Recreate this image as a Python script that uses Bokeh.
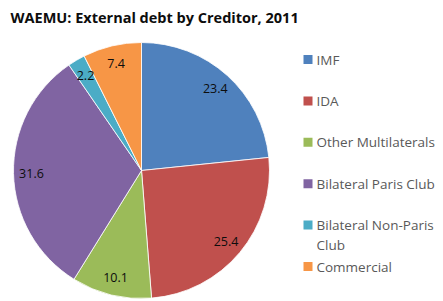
import math
from bokeh.plotting import figure
from bokeh.models import Range1d, ColumnDataSource
from bokeh.core.properties import value
from bokeh.embed import file_html
from bokeh.resources import INLINE

# ---- data ----
title_text = "WAEMU: External debt by Creditor, 2011"
categories = ["IMF", "IDA", "Other Multilaterals", "Bilateral Paris Club",
              "Bilateral Non-Paris Club", "Commercial"]
shares = [23.4, 25.4, 10.1, 31.6, 2.2, 7.4]
legend_lines = [["IMF"], ["IDA"], ["Other Multilaterals"], ["Bilateral Paris Club"],
                ["Bilateral Non-Paris", "Club"], ["Commercial"]]
colors = ["#4F81BD", "#C0504D", "#9BBB59", "#8064A2", "#4BACC6", "#F79646"]

# ---- layout (pixels, reference coords -> data coords) ----
W, H = 443, 301
def X(px):
    return px
def Y(py):
    return H - py

cx, cy, R = X(141), Y(170), 128
label_r = 0.86 * R

p = figure(width=W, height=H, output_backend="svg", toolbar_location=None,
           x_range=Range1d(0, W), y_range=Range1d(0, H),
           x_axis_location=None, y_axis_location=None, min_border=0)
p.grid.visible = False
p.outline_line_color = None
p.background_fill_color = "white"
p.border_fill_color = "white"

total = sum(shares)
starts, ends, lx, ly, txt = [], [], [], [], []
cum = 0.0
for s in shares:
    a0 = math.pi / 2 - 2 * math.pi * cum / total
    cum += s
    a1 = math.pi / 2 - 2 * math.pi * cum / total
    starts.append(a0)
    ends.append(a1)
    mid = (a0 + a1) / 2
    lx.append(cx + label_r * math.cos(mid))
    ly.append(cy + label_r * math.sin(mid))
    txt.append(f"{s:.1f}")

src = ColumnDataSource(dict(start=starts, end=ends, color=colors))
p.wedge(x=cx, y=cy, radius=R, start_angle="start", end_angle="end",
        direction="clock", fill_color="color", line_color="white",
        line_width=0.8, source=src)

p.text(x=lx, y=ly, text=txt, text_align="center", text_baseline="middle",
       text_font=value("Open Sans"), text_font_size="12.5px", text_color="#0d0d0d")

# title
p.text(x=[X(10)], y=[Y(17)], text=[title_text], text_align="left",
       text_baseline="middle", text_font=value("Open Sans"),
       text_font_size="14.5px", text_font_style="bold", text_color="#0d0d0d")

# legend
sq_x, tx_x, y0, dy = X(307.5), X(316), 59, 41.4
sqx, sqy, ltx, lty, ltt = [], [], [], [], []
for i, lines in enumerate(legend_lines):
    yy = y0 + dy * i
    sqx.append(sq_x)
    sqy.append(Y(yy))
    for j, line in enumerate(lines):
        ltx.append(tx_x)
        lty.append(Y(yy + 19.5 * j))
        ltt.append(line)
p.scatter(x=sqx, y=sqy, marker="square", size=9, fill_color=colors, line_color=None)
p.text(x=ltx, y=lty, text=ltt, text_align="left", text_baseline="middle",
       text_font=value("Open Sans"), text_font_size="13.5px", text_color="#595959")

open("out.html", "w").write(file_html(p, INLINE))
